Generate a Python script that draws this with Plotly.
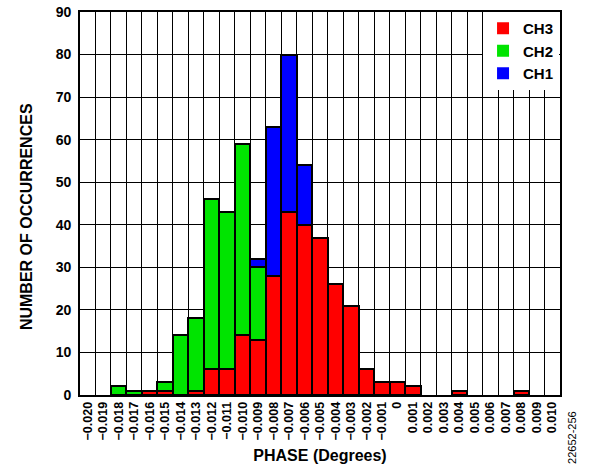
import plotly.graph_objects as go

phase_labels = ["−0.020", "−0.019", "−0.018", "−0.017", "−0.016", "−0.015", "−0.014",
                "−0.013", "−0.012", "−0.011", "−0.010", "−0.009", "−0.008", "−0.007",
                "−0.006", "−0.005", "−0.004", "−0.003", "−0.002", "−0.001", "0",
                "0.001", "0.002", "0.003", "0.004", "0.005", "0.006", "0.007", "0.008",
                "0.009", "0.010"]

ch3 = [0, 0, 0, 0, 1, 1, 0, 1, 6, 6, 14, 13, 28, 43, 40, 37, 26, 21, 6, 3, 3,
       2, 0, 0, 1, 0, 0, 0, 1, 0, 0]
ch2 = [0, 0, 2, 1, 0, 2, 14, 17, 40, 37, 45, 17, 0, 0, 0, 0, 0, 0, 0, 0, 0,
       0, 0, 0, 0, 0, 0, 0, 0, 0, 0]
ch1 = [0, 0, 0, 0, 0, 0, 0, 0, 0, 0, 0, 2, 35, 37, 14, 0, 0, 0, 0, 0, 0,
       0, 0, 0, 0, 0, 0, 0, 0, 0, 0]

FONT = "Liberation Sans, Arial, sans-serif"

def nz(v):
    return [x if x else None for x in v]

series = [("CH3", ch3, "#FF0000"), ("CH2", ch2, "#00E400"), ("CH1", ch1, "#0000FF")]

fig = go.Figure()
for name, vals, color in series:
    fig.add_trace(go.Bar(
        x=phase_labels, y=nz(vals), name=name, legendgroup=name, showlegend=False,
        marker=dict(color=color, line=dict(color="black", width=2)),
    ))
# legend entries (filled squares without outline)
for name, vals, color in series:
    fig.add_trace(go.Bar(
        x=[phase_labels[0]], y=[None], name=name, legendgroup=name, showlegend=True,
        marker=dict(color=color, line=dict(width=0)),
    ))

fig.update_layout(
    width=592, height=469,
    barmode="stack", bargap=0,
    margin=dict(l=80, r=32, t=12, b=74, autoexpand=False),
    plot_bgcolor="white", paper_bgcolor="white",
    font=dict(family=FONT, color="black"),
    showlegend=True,
    legend=dict(
        x=0.998, y=1.0, xanchor="right", yanchor="top",
        bgcolor="white", borderwidth=0,
        font=dict(family=FONT, size=15, color="black", weight="bold"),
        traceorder="normal", itemwidth=30,
    ),
    xaxis=dict(
        type="category", automargin=False,
        categoryorder="array", categoryarray=phase_labels,
        tickson="boundaries",
        showgrid=True, gridcolor="black", gridwidth=1.3,
        showline=True, linecolor="black", linewidth=1.8, mirror=True,
        ticks="", tickangle=-90,
        tickfont=dict(family=FONT, size=12.5, color="black", weight="bold"),
        title=dict(text="PHASE (Degrees)", standoff=10,
                   font=dict(family=FONT, size=16, color="black", weight="bold")),
        range=[-0.5, 30.5],
    ),
    yaxis=dict(
        range=[0, 90], dtick=10, tick0=0, automargin=False,
        showgrid=True, gridcolor="black", gridwidth=1.3,
        showline=True, linecolor="black", linewidth=1.8, mirror=True,
        ticks="", zeroline=False, ticklabeloverflow="allow", ticklabelstandoff=4,
        tickfont=dict(family=FONT, size=14, color="black", weight="bold"),
    ),
)

fig.add_annotation(
    text="NUMBER OF OCCURRENCES", textangle=-90, showarrow=False,
    xref="paper", yref="paper", x=-0.110, y=0.465, xanchor="center", yanchor="middle",
    font=dict(family=FONT, size=16, color="black", weight="bold"),
)

fig.add_annotation(
    text="22652-256", textangle=-90, showarrow=False,
    xref="paper", yref="paper", x=1.025, y=-0.112, xanchor="center", yanchor="middle",
    font=dict(family=FONT, size=11, color="black"),
)

fig.write_html("out.html", config={"displayModeBar": False},
               post_script="document.body.style.margin='0';")
